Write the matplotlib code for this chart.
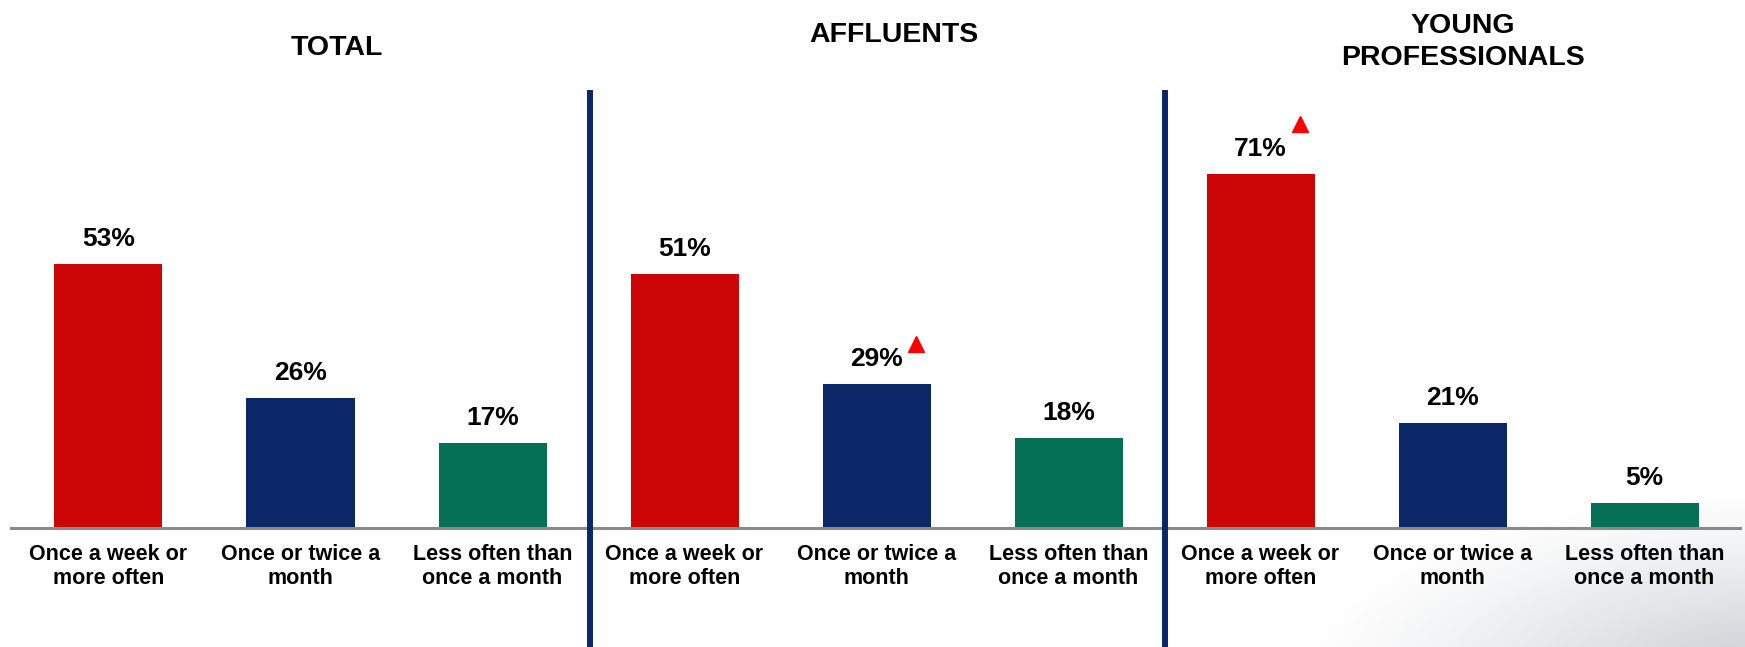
import numpy as np
import matplotlib
matplotlib.use("Agg")
import matplotlib.pyplot as plt
from matplotlib.transforms import offset_copy

plt.rcParams['font.family'] = ['Liberation Sans', 'DejaVu Sans']
plt.rcParams['font.weight'] = 'bold'

groups = ["TOTAL", "AFFLUENTS", "YOUNG\nPROFESSIONALS"]
categories = ["Once a week or\nmore often", "Once or twice a\nmonth", "Less often than\nonce a month"]
total = [53, 26, 17]
affluents = [51, 29, 18]
young_prof = [71, 21, 5]
# significantly higher than total (index within the 9 bars)
significant = {4: 40, 6: 50}

colors = ["#cc0606", "#0a2868", "#067056"]
divider = "#0a2868"

values = total + affluents + young_prof
x = np.arange(len(values))

W, H = 1745, 647
fig = plt.figure(figsize=(W / 100, H / 100), dpi=100)

# soft grey swoosh in the lower right corner
bg = fig.add_axes([0, 0, 1, 1], zorder=0)
bg.axis("off")
yy, xx = np.mgrid[0:H, 0:W]
d = np.sqrt(((xx - W - 30) / 480.0) ** 2 + ((yy - H - 30) / 190.0) ** 2)
alpha = np.clip(1 - d, 0, 1) ** 1.2 * 0.55
img = np.zeros((H, W, 4))
img[..., 0] = 0.60
img[..., 1] = 0.63
img[..., 2] = 0.67
img[..., 3] = alpha
bg.imshow(img, extent=[0, W, H, 0], aspect="auto")
bg.set_xlim(0, W)
bg.set_ylim(H, 0)

ax = fig.add_axes([0, 0, 1, 1], zorder=1)
ax.patch.set_alpha(0)
ax.axis("off")
ax.set_xlim(-0.565, 8.523)
ax.set_ylim(-23.9, 106.0)

bar_colors = colors * 3
ax.bar(x, values, width=0.5625, color=bar_colors, zorder=2)

ax.axhline(0, xmin=11 / W, xmax=1740 / W, color="#8a8a8a", lw=2.2, zorder=3)
for xd in [2.51, 5.5]:
    ax.axvline(xd, ymin=0, ymax=1 - 93 / H, color=divider, lw=4.3, zorder=4)

for xi, v in zip(x, values):
    ax.annotate(f"{v}%", (xi, v), xytext=(0, 18), textcoords="offset points",
                ha="center", va="center", fontsize=19, fontweight="bold")

for xi in x:
    ax.annotate(categories[xi % 3], (xi, 0), xytext=(0, -27.5), textcoords="offset points",
                ha="center", va="center", fontsize=15.5, fontweight="bold",
                linespacing=1.17)

for i, dy in significant.items():
    tr = offset_copy(ax.transData, fig=fig, x=39.6, y=dy, units="dots")
    ax.plot(x[i], values[i], marker="^", color="#ff0000", ms=11, transform=tr,
            clip_on=False, zorder=5)

title_pos = [(337, 48), (894, 35), (1463, 42)]
for g, (px, py) in zip(groups, title_pos):
    fig.text(px / W, 1 - py / H, g, ha="center", va="center", fontsize=20.5,
             fontweight="bold", linespacing=1.32)

fig.savefig("out.png", dpi=100)
